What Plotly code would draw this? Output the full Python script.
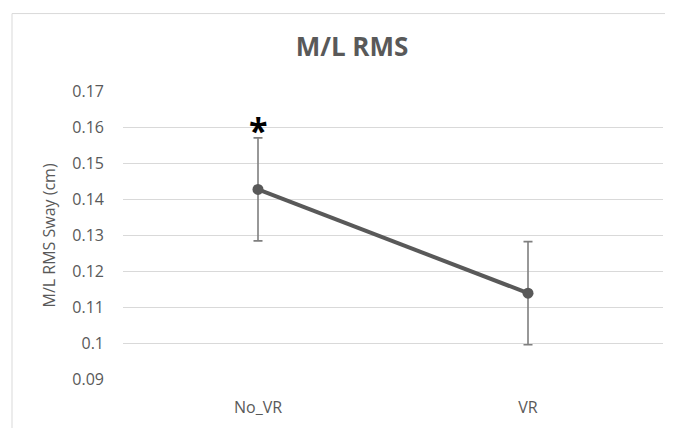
import plotly.graph_objects as go

categories = ["No_VR", "VR"]
values = [0.1428, 0.1140]
errors = [0.0143, 0.0143]
y_ticks = [0.09, 0.10, 0.11, 0.12, 0.13, 0.14, 0.15, 0.16, 0.17]
y_tick_labels = ["0.09", "0.1", "0.11", "0.12", "0.13", "0.14", "0.15", "0.16", "0.17"]
significance = ["*", ""]

# page body has an 8px default margin; design in window pixels, offset by 8
OFF = 8
W, H = 673 - OFF, 428 - OFF
ml, mr, mt, mb = 123 - OFF, 10, 90.5 - OFF, 44.5
pw, ph = W - ml - mr, H - mt - mb

fig = go.Figure()
fig.add_trace(go.Scatter(
    x=categories, y=values,
    mode="lines+markers",
    line=dict(color="#595959", width=4),
    marker=dict(color="#595959", size=11),
    error_y=dict(type="data", array=errors, visible=True,
                 color="#7f7f7f", thickness=1.6, width=4.5),
    showlegend=False,
    hoverinfo="skip",
))

for c, v, e, s in zip(categories, values, errors, significance):
    if s:
        fig.add_annotation(x=c, y=v + e, text="<b>" + s + "</b>", showarrow=False,
                           yanchor="bottom", yshift=-17,
                           font=dict(family="Open Sans", size=34, color="#000000"))

px = lambda p: (p - OFF - ml) / pw
py = lambda p: (H - mb - (p - OFF)) / ph
fig.add_shape(type="line", xref="paper", yref="paper",
              x0=px(12), x1=px(720), y0=py(12), y1=py(12),
              line=dict(color="#d9d9d9", width=1))
fig.add_shape(type="line", xref="paper", yref="paper",
              x0=px(12), x1=px(12), y0=py(12), y1=py(470),
              line=dict(color="#d9d9d9", width=1))

fig.add_annotation(xref="paper", yref="paper", x=px(48), y=0.5,
                   xanchor="center", yanchor="middle",
                   text="M/L RMS Sway (cm)", textangle=-90, showarrow=False,
                   font=dict(family="Open Sans", size=16, color="#595959"))

fig.update_layout(
    width=W, height=H,
    margin=dict(l=ml, r=mr, t=mt, b=mb),
    paper_bgcolor="white", plot_bgcolor="white",
    title=dict(text="<b>M/L RMS</b>", x=(352 - OFF) / W, xanchor="center",
               y=1 - (47 - OFF) / H, yanchor="middle", yref="container",
               font=dict(family="Open Sans", size=26, color="#595959")),
    font=dict(family="Open Sans", color="#595959"),
)
fig.update_xaxes(range=[-0.5, 1.5], showgrid=False, zeroline=False, showline=False,
                 tickfont=dict(size=16, color="#595959"),
                 ticklabelstandoff=16)
fig.update_yaxes(range=[0.0899, 0.1701], tickvals=y_ticks, ticktext=y_tick_labels,
                 showgrid=True, gridcolor="#d9d9d9", gridwidth=1.3,
                 zeroline=False, showline=False,
                 tickfont=dict(size=16, color="#595959"),
                 ticklabelstandoff=18)

fig.write_html("out.html")
